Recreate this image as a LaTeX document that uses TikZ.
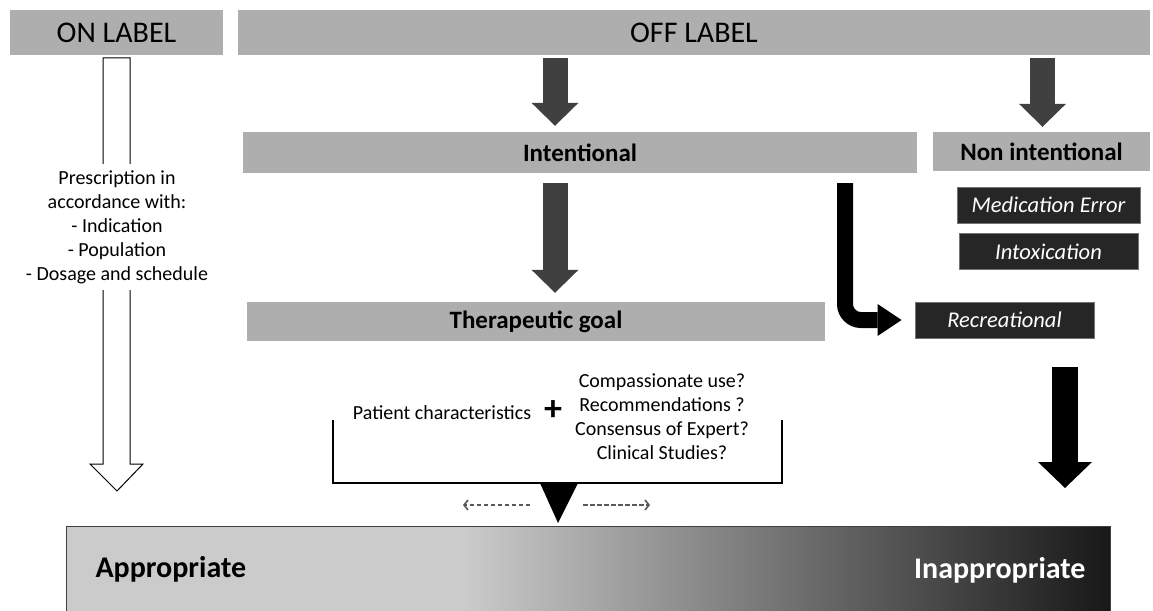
\documentclass[tikz,border=0pt]{standalone}
\usepackage{fontspec}
\setmainfont{Carlito}
\usetikzlibrary{positioning,arrows.meta}
\definecolor{boxgray}{RGB}{174,174,174}
\definecolor{boxdark}{RGB}{38,38,38}
\definecolor{arrowgray}{RGB}{64,64,64}
\definecolor{barlight}{RGB}{203,203,203}
\definecolor{bardark}{RGB}{24,24,24}
\tikzset{
  graybox/.style={fill=boxgray,inner sep=0pt,font=\fontsize{25}{30}\selectfont\bfseries},
  darkbox/.style={fill=boxdark,draw=black!55,line width=0.8pt,inner sep=0pt,minimum height=36pt,text=white,font=\fontsize{22.5}{27}\selectfont\itshape},
  fatarrow/.style={arrowgray,line width=25pt,-{Triangle[width=47pt,length=23pt,line width=0pt]}},
  smalltext/.style={font=\fontsize{20}{24}\selectfont,align=center},
  dasharrow/.style={black!65,line width=1.6pt,dash pattern=on 4.5pt off 2.5pt,-{Straight Barb[length=4pt,width=10pt]}},
}

\begin{document}
\begin{tikzpicture}[x=1pt,y=-1pt]
\useasboundingbox (0,0) rectangle (1153,610);
% Headers
\node[graybox,minimum width=213pt,minimum height=45pt,font=\fontsize{30}{36}\selectfont] (on) at (116.5,32.5) {ON LABEL};
\node[graybox,minimum width=912pt,minimum height=45pt,font=\fontsize{30}{36}\selectfont] (off) at (694,32.5) {OFF LABEL};
% Grey boxes
\node[graybox,minimum width=674pt,minimum height=41pt] (int) at (580,152.5) {Intentional};
\node[graybox,minimum width=217pt,minimum height=39pt] (nonint) at (1041.5,151.5) {Non intentional};
\node[graybox,minimum width=578pt,minimum height=39pt] (ther) at (536,321.5) {Therapeutic goal};
% Dark boxes
\node[darkbox,minimum width=183pt] (med) at (1048.5,205) {Medication Error};
\node[darkbox,minimum width=179pt,below=10pt of med] (intox) {Intoxication};
\node[darkbox,minimum width=179pt] (rec) at (1004.5,320) {Recreational};
% Columns
\coordinate (colA) at (555,0);
\coordinate (colB) at (1042.5,0);
\coordinate (colC) at (845,0);
\coordinate (bartop) at (1065,526);
% Arrows
\draw[fatarrow,shorten <=3pt,shorten >=6pt] (off.south -| colA) -- (int.north -| colA); % to intentional
\draw[fatarrow,shorten <=10pt,shorten >=9pt] (int.south -| colA) -- (ther.north -| colA); % to goal
\draw[fatarrow,shorten <=3pt,shorten >=5pt] (off.south -| colB) -- (nonint.north -| colB); % to non intentional
\draw[black,line width=16pt,rounded corners=16pt,-{Triangle[width=32pt,length=24pt,line width=0pt]},shorten <=10pt,shorten >=13pt] (int.south -| colC) |- (rec.west); % to recreational
\draw[black,line width=26pt,-{Triangle[width=54pt,length=26pt,line width=0pt]},shorten <=29pt,shorten >=38pt] (rec.south -| bartop) -- (bartop); % to bar
% On label arrow
\draw[fill=white,line width=1pt] (103,58) -- (103,464) -- (90,464) -- (117,491) -- (143,464) -- (130,464) -- (130,58) -- cycle;
\node[smalltext,fill=white,inner sep=6pt] (presc) at (117,227) {Prescription in\\accordance with:\\- Indication\\- Population\\- Dosage and schedule};
% Criteria
\node[smalltext] (pat) at (442,413) {Patient characteristics};
\node[font=\fontsize{36}{36}\selectfont\bfseries] (plus) at (553,411) {+};
\node[smalltext] (crit) at (662,416.5) {Compassionate use?\\Recommendations ?\\Consensus of Expert?\\Clinical Studies?};
\draw[line width=1.2pt] (333,420) |- (782,483) -- (782,420); % bracket
\fill[black] (540,483) -- (578,483) -- (558,523) -- cycle; % pointer
\coordinate (tri) at (558,505);
\draw[dasharrow] ([xshift=-28pt]tri) -- ([xshift=-95pt]tri);
\draw[dasharrow] ([xshift=25pt]tri) -- ([xshift=92pt]tri);
% Bar
\fill[barlight] (66,526) rectangle (463,612);
\shade[left color=barlight,right color=bardark] (463,526) rectangle (1110,612);
\draw[black!75,line width=1pt] (66,612) |- (1110,526) -- (1110,612);
\node[anchor=west,font=\fontsize{30}{36}\selectfont\bfseries] (app) at (92,569) {Appropriate};
\node[anchor=east,text=white,font=\fontsize{30}{36}\selectfont\bfseries] (inapp) at (1089,570) {Inappropriate};
\end{tikzpicture}
\end{document}
